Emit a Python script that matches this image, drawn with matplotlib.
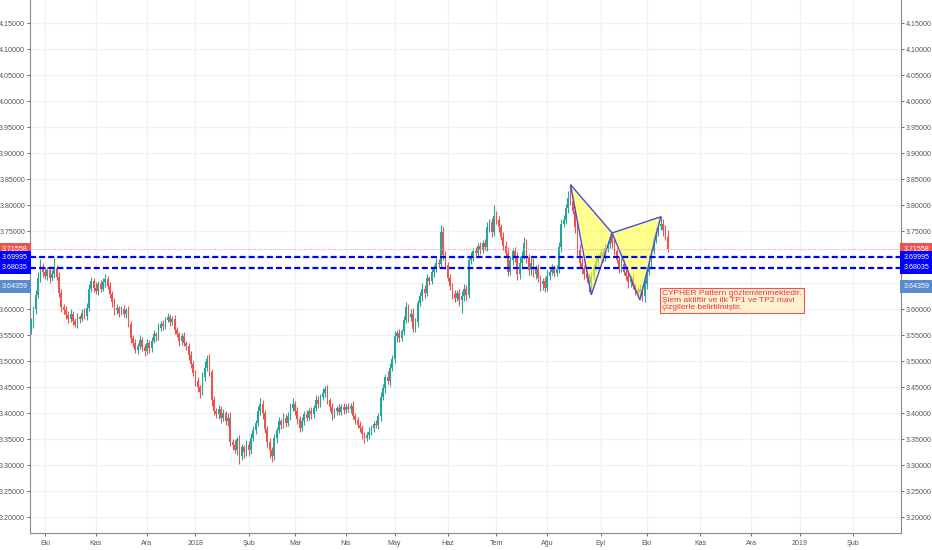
import numpy as np
import pandas as pd
import matplotlib.pyplot as plt
import matplotlib.transforms as mtransforms

plt.rcParams['font.family'] = ['Liberation Sans', 'DejaVu Sans']

# daily closes, first candle on 2017-09-22 (weekdays only)
first_open = 3.560
closes = [
    3.575, 3.600, 3.628, 3.660, 3.682, 3.672,
    3.665, 3.676, 3.660, 3.668, 3.680, 3.662, 3.632, 3.605, 3.598, 3.590,
    3.582, 3.592, 3.578, 3.570, 3.585, 3.582, 3.594, 3.588, 3.602, 3.640,
    3.655, 3.642, 3.636, 3.648, 3.640, 3.652, 3.658, 3.645, 3.630, 3.615,
    3.598, 3.602, 3.594, 3.600, 3.592, 3.598, 3.572, 3.545, 3.535, 3.522,
    3.530, 3.542, 3.528, 3.520, 3.536, 3.525, 3.540, 3.552, 3.548, 3.565,
    3.572, 3.568, 3.580, 3.586, 3.576, 3.582, 3.560, 3.552, 3.540, 3.548,
    3.535, 3.530, 3.512, 3.495, 3.478, 3.462, 3.450, 3.442, 3.470, 3.488,
    3.505, 3.480, 3.425, 3.405, 3.398, 3.408, 3.392, 3.400, 3.385, 3.392,
    3.345, 3.340, 3.330, 3.350, 3.318, 3.335, 3.325, 3.340, 3.330, 3.352,
    3.368, 3.382, 3.405, 3.418, 3.400, 3.370, 3.345, 3.330, 3.318, 3.352,
    3.368, 3.385, 3.378, 3.392, 3.382, 3.395, 3.410, 3.418, 3.405, 3.390,
    3.372, 3.385, 3.398, 3.392, 3.405, 3.398, 3.410, 3.425, 3.418, 3.432,
    3.440, 3.446, 3.425, 3.412, 3.398, 3.405, 3.410, 3.402, 3.412, 3.406,
    3.412, 3.408, 3.415, 3.395, 3.388, 3.378, 3.372, 3.360, 3.352, 3.358,
    3.365, 3.372, 3.380, 3.378, 3.395, 3.432, 3.448, 3.470, 3.462, 3.488,
    3.505, 3.548, 3.555, 3.545, 3.558, 3.580, 3.605, 3.585, 3.592, 3.562,
    3.575, 3.612, 3.625, 3.640, 3.632, 3.660, 3.655, 3.672, 3.680, 3.690,
    3.688, 3.748, 3.705, 3.685, 3.660, 3.645, 3.630, 3.622, 3.632, 3.618,
    3.625, 3.640, 3.628, 3.695, 3.700, 3.712, 3.708, 3.722, 3.715, 3.728,
    3.720, 3.758, 3.768, 3.748, 3.780, 3.772, 3.758, 3.740, 3.722, 3.708,
    3.672, 3.695, 3.712, 3.700, 3.668, 3.690, 3.702, 3.728, 3.700, 3.675,
    3.690, 3.668, 3.680, 3.660, 3.648, 3.655, 3.642, 3.665, 3.672, 3.680,
    3.670, 3.678, 3.720, 3.765, 3.772, 3.795, 3.815, 3.808, 3.790, 3.758,
    3.715, 3.690, 3.680, 3.668, 3.660, 3.648, 3.665, 3.680, 3.692, 3.700,
    3.710, 3.700, 3.718, 3.725, 3.740, 3.728, 3.712, 3.695, 3.680, 3.688,
    3.672, 3.665, 3.652, 3.660, 3.645, 3.638, 3.632, 3.640, 3.625, 3.648,
    3.672, 3.690, 3.712, 3.735, 3.748, 3.760, 3.765, 3.752, 3.740, 3.7156,
]
# wick lengths above / below the body, in 0.001
upper_wick = [
    8, 6, 10, 12, 15, 8,
    10, 6, 8, 8, 18, 6, 10, 8, 6, 8,
    6, 8, 5, 6, 8, 5, 6, 8, 10, 8,
    8, 6, 10, 6, 8, 8, 10, 6, 8, 5,
    6, 8, 5, 6, 8, 5, 8, 6, 5, 8,
    6, 8, 5, 6, 8, 5, 6, 8, 5, 8,
    6, 8, 5, 8, 6, 5, 8, 6, 5, 6,
    8, 5, 6, 8, 5, 6, 8, 5, 10, 12,
    8, 10, 6, 8, 5, 8, 6, 8, 5, 8,
    10, 6, 8, 5, 8, 6, 5, 8, 6, 10,
    8, 6, 10, 12, 8, 6, 5, 8, 6, 8,
    6, 8, 5, 8, 6, 8, 10, 12, 6, 8,
    5, 8, 6, 8, 5, 8, 6, 10, 8, 6,
    8, 6, 8, 5, 8, 6, 5, 8, 6, 8,
    6, 8, 5, 8, 6, 5, 8, 6, 5, 6,
    8, 6, 5, 8, 6, 10, 8, 6, 12, 8,
    8, 10, 6, 8, 5, 8, 10, 6, 8, 10,
    8, 6, 8, 10, 6, 8, 5, 8, 6, 8,
    6, 14, 10, 8, 6, 8, 5, 8, 6, 8,
    10, 8, 6, 8, 10, 6, 8, 5, 8, 6,
    8, 10, 6, 8, 20, 10, 8, 6, 8, 10,
    12, 8, 6, 8, 10, 12, 10, 12, 8, 6,
    10, 8, 6, 8, 6, 5, 8, 10, 6, 8,
    6, 8, 10, 8, 10, 8, 12, 25, 10, 8,
    12, 10, 8, 6, 8, 10, 6, 8, 6, 8,
    6, 8, 10, 8, 7, 6, 8, 6, 8, 10,
    8, 6, 8, 6, 8, 6, 5, 8, 6, 10,
    8, 10, 6, 8, 10, 8, 15, 8, 10, 12,
]
lower_wick = [
    8, 10, 8, 6, 8, 10,
    6, 8, 10, 6, 8, 6, 8, 10, 6, 8,
    8, 6, 8, 3, 6, 8, 5, 6, 8, 6,
    6, 8, 6, 8, 6, 5, 8, 6, 8, 10,
    8, 6, 8, 5, 6, 8, 6, 10, 8, 6,
    8, 6, 8, 10, 6, 8, 6, 5, 8, 6,
    6, 8, 6, 5, 8, 6, 8, 6, 10, 8,
    6, 8, 10, 8, 6, 10, 8, 12, 6, 8,
    6, 8, 10, 8, 6, 8, 10, 6, 8, 10,
    8, 10, 6, 10, 15, 8, 10, 6, 12, 8,
    6, 8, 6, 8, 10, 8, 10, 15, 12, 8,
    8, 6, 8, 6, 8, 6, 8, 6, 8, 10,
    8, 6, 8, 6, 5, 8, 6, 5, 8, 6,
    6, 8, 6, 8, 10, 6, 8, 6, 5, 8,
    6, 5, 8, 6, 8, 6, 8, 10, 8, 6,
    8, 6, 8, 6, 8, 10, 6, 8, 6, 10,
    6, 8, 10, 8, 6, 8, 6, 10, 8, 6,
    6, 8, 6, 8, 10, 6, 8, 6, 10, 8,
    8, 6, 10, 8, 6, 8, 10, 8, 6, 12,
    25, 8, 10, 6, 8, 6, 8, 6, 8, 6,
    6, 8, 10, 8, 6, 8, 10, 6, 8, 6,
    8, 6, 10, 8, 12, 10, 8, 6, 10, 8,
    8, 6, 10, 8, 12, 10, 8, 6, 8, 6,
    8, 6, 8, 10, 6, 8, 10, 8, 6, 12,
    10, 8, 12, 10, 8, 15, 12, 8, 6, 8,
    6, 8, 6, 8, 6, 10, 8, 6, 10, 8,
    6, 8, 10, 8, 6, 10, 8, 6, 8, 10,
    8, 6, 10, 6, 8, 6, 8, 10, 6, 6,
]

# cypher pattern points (two triangles)
pattern_dates = ['2018-08-15', '2018-08-28', '2018-09-10', '2018-09-26', '2018-10-09']
pattern_vals = [3.840, 3.628, 3.747, 3.618, 3.778]

last_price = 3.71558
tp_levels = [3.69995, 3.68035]
other_price = 3.64359

months_tr = ['Oca', 'Şub', 'Mar', 'Nis', 'May', 'Haz', 'Tem', 'Ağu', 'Eyl', 'Eki', 'Kas', 'Ara']
note = ("CYPHER Pattern gözlemlenmektedir.\n"
        "Şlem aktiftir ve ilk TP1 ve TP2 mavi\n"
        "çizgilerle belirtilmiştir.")

UP, DOWN = '#26a69a', '#ef5350'

days = pd.bdate_range('2017-09-22', '2019-02-28')
pos_of = {d: i for i, d in enumerate(days)}
closes = np.array(closes)
opens = np.concatenate([[first_open], closes[:-1]])
highs = np.maximum(opens, closes) + np.array(upper_wick) / 1000
lows = np.minimum(opens, closes) - np.array(lower_wick) / 1000
x = np.arange(len(closes))
colors = np.where(closes >= opens, UP, DOWN)

fig = plt.figure(figsize=(9.32, 5.5), dpi=100)
ax = fig.add_axes([30 / 932, 17 / 550, 871 / 932, 533 / 550])

# grid
yt = np.round(np.arange(3.20, 4.1501, 0.05), 2)
mt, ml = [], []
for i in range(1, len(days)):
    if days[i].month != days[i - 1].month:
        mt.append(i)
        ml.append(str(days[i].year) if days[i].month == 1 else months_tr[days[i].month - 1])
for v in yt:
    ax.axhline(v, color='#eef2f6', lw=1, zorder=0)
for m in mt:
    ax.axvline(m, color='#eef2f6', lw=1, zorder=0)

# candles
ax.vlines(x, lows, highs, colors=colors, lw=0.8, zorder=2)
ax.bar(x, np.maximum(np.abs(closes - opens), 0.0008), bottom=np.minimum(opens, closes),
       width=0.75, color=colors, lw=0, zorder=3)

# pattern
px = [pos_of[pd.Timestamp(d)] for d in pattern_dates]
ax.fill([px[0], px[1], px[2]], [pattern_vals[0], pattern_vals[1], pattern_vals[2]],
        fc=(1, 1, 0.25, 0.6), ec='#4b4bdb', lw=1, zorder=4)
ax.fill([px[2], px[3], px[4]], [pattern_vals[2], pattern_vals[3], pattern_vals[4]],
        fc=(1, 1, 0.25, 0.6), ec='#4b4bdb', lw=1, zorder=4)

# levels
ax.axhline(last_price, color='#f5a3a3', lw=0.8, ls=(0, (1, 1)), zorder=5)
for v in tp_levels:
    ax.axhline(v, color='#0000ff', lw=1.6, ls=(0, (2.7, 1.4)), zorder=5)

ax.text(pos_of[pd.Timestamp('2018-10-09')] + 0.6, 3.637, note, fontsize=6.0, color='#e53935',
        va='top', ha='left', linespacing=1.0, zorder=6,
        bbox=dict(boxstyle='square,pad=0.25', fc='#fff0d4', ec='#ef5350', lw=0.8))

ax.set_xlim(-0.5, 375.8)
ax.set_ylim(3.170, 4.195)
ax.set_yticks(yt)
# tick labels hidden behind the price boxes
hidden = [3.70, 3.65]
ax.set_yticklabels(['' if v in hidden else f'{v:.5f}' for v in yt])
ax.set_xticks(mt)
ax.set_xticklabels(ml)
ax.tick_params(axis='y', labelsize=5.1, colors='#555555', length=2, width=0.6,
               pad=1.5, left=True, right=True, labelleft=True, labelright=True)
ax.tick_params(axis='x', labelsize=5.1, colors='#555555', length=2, width=0.6, pad=3)
for s in ['left', 'right', 'bottom']:
    ax.spines[s].set_color('#888888')
    ax.spines[s].set_linewidth(0.8)
ax.spines['top'].set_visible(False)

# price labels on both axes
boxes = [(last_price, '#ef5350'), (tp_levels[0], '#0000ff'),
         (tp_levels[1], '#0000ff'), (other_price, '#5b8bcf')]
tl = mtransforms.blended_transform_factory(ax.transAxes, ax.transData)
for v, c in boxes:
    for xa, ha in [(-0.003, 'right'), (1.003, 'left')]:
        ax.text(xa, v, f'{v:.5f}', transform=tl, ha=ha, va='center', fontsize=5.1,
                color='white', zorder=10, clip_on=False,
                bbox=dict(boxstyle='square,pad=0.45', fc=c, ec=c, lw=0))

fig.savefig('out.png', dpi=100, facecolor='white')
